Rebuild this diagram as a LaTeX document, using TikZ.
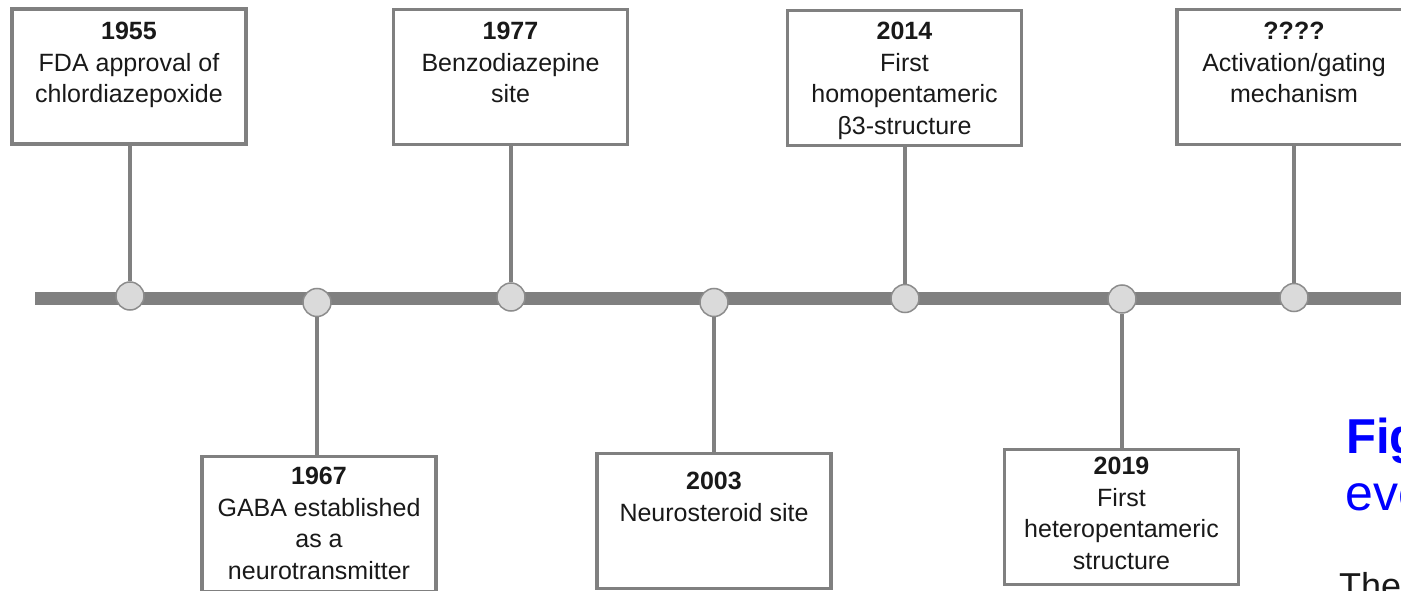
\documentclass[tikz,border=0pt]{standalone}
\usepackage{fontspec}
\setmainfont{Liberation Sans}
\definecolor{lineGray}{RGB}{128,128,128}
\definecolor{dotFill}{RGB}{218,218,218}
\definecolor{dotDraw}{RGB}{140,140,140}
\definecolor{txt}{RGB}{25,25,25}
\definecolor{capBlue}{RGB}{0,0,255}
\begin{document}
\begin{tikzpicture}[x=1pt,y=-1pt,
  evbox/.style={draw=lineGray, line width=3.5pt, fill=white, minimum width=234pt, minimum height=135pt, inner sep=0pt},
  evtext/.style={anchor=north, align=center, inner sep=0pt, text=txt, font=\fontsize{25}{31.5}\selectfont},
  evdot/.style={circle, draw=dotDraw, line width=1.5pt, fill=dotFill, minimum size=28pt, inner sep=0pt},
  evstem/.style={draw=lineGray, line width=4.5pt},
  timebar/.style={draw=lineGray, line width=13pt},
  captext/.style={anchor=base west, inner sep=0pt}]
\fill[white] (0,0) rectangle (1401,591);
\useasboundingbox (0,0) rectangle (1401,591);
\clip (0,0) rectangle (1401,591);
% timeline
\coordinate (barL) at (35,298);
\coordinate (barR) at (1420,298);
\draw[timebar] (barL) -- (barR);
% event dots
\node[evdot] (c1955) at (130,296) {};
\node[evdot] (c1967) at (317,302.5) {};
\node[evdot] (c1977) at (511,297) {};
\node[evdot] (c2003) at (714,302.5) {};
\node[evdot] (c2014) at (905,298.5) {};
\node[evdot] (c2019) at (1122,299) {};
\node[evdot] (cqqqq) at (1294,297.5) {};
% boxes
\node[evbox] (b1955) at (129,76.5) {};
\node[evbox] (b1977) at (510.5,77) {};
\node[evbox] (b2014) at (904.5,78) {};
\node[evbox] (bqqqq) at (1294,77) {};
\node[evbox] (b1967) at (319,524) {};
\node[evbox] (b2003) at (714,521) {};
\node[evbox] (b2019) at (1121.5,517) {};
% stems
\draw[evstem] (c1955.north) -- (c1955.north |- b1955.south);
\draw[evstem] (c1977.north) -- (c1977.north |- b1977.south);
\draw[evstem] (c2014.north) -- (c2014.north |- b2014.south);
\draw[evstem] (cqqqq.north) -- (cqqqq.north |- bqqqq.south);
\draw[evstem] (c1967.south) -- (c1967.south |- b1967.north);
\draw[evstem] (c2003.south) -- (c2003.south |- b2003.north);
\draw[evstem] (c2019.south) -- (c2019.south |- b2019.north);
% texts
\node[evtext] (t1955) at (129,22) {\textbf{1955}\\FDA approval of\\chlordiazepoxide};
\node[evtext] (t1977) at (510.5,22) {\textbf{1977}\\Benzodiazepine\\site};
\node[evtext] (t2014) at (904.5,22) {\textbf{2014}\\First\\homopentameric\\β3-structure};
\node[evtext] (tqqqq) at (1294,22) {\textbf{????}\\Activation/gating\\mechanism};
\node[evtext] (t1967) at (319,467) {\textbf{1967}\\GABA established\\as a\\neurotransmitter};
\node[evtext] (t2003) at (714,472) {\textbf{2003}\\Neurosteroid site};
\node[evtext] (t2019) at (1121.5,457) {\textbf{2019}\\First\\heteropentameric\\structure};
% cropped caption fragments
\node[captext, text=capBlue, font=\fontsize{49}{55}\selectfont\bfseries] (capA) at (1346,453) {Fig};
\node[captext, text=capBlue, font=\fontsize{50}{55}\selectfont] (capB) at (1345,510) {eve};
\node[captext, text=txt, font=\fontsize{36}{40}\selectfont] (capC) at (1339,598) {The};
\end{tikzpicture}
\end{document}
